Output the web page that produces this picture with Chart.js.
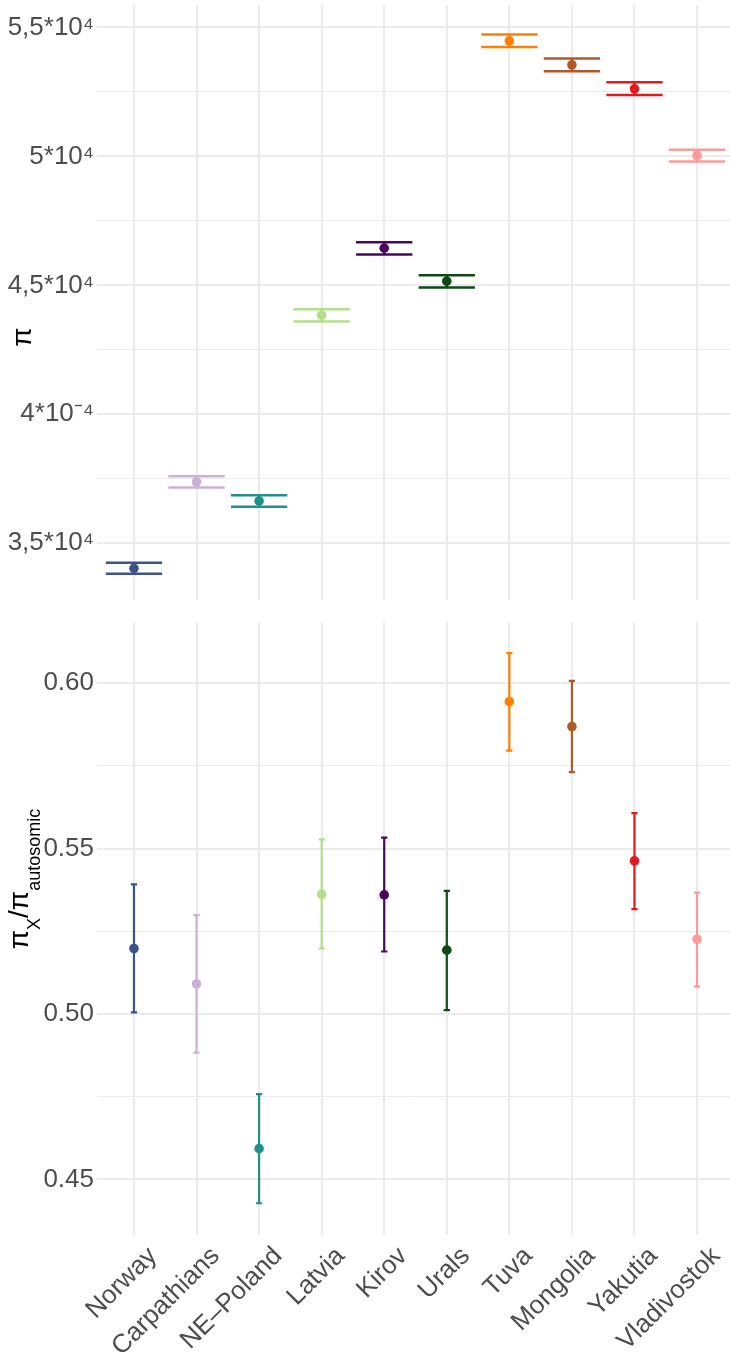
<!DOCTYPE html>
<html>
<head>
<meta charset="utf-8">
<script src="https://cdn.jsdelivr.net/npm/chart.js@4.4.0/dist/chart.umd.min.js"></script>
<style>
  html, body { margin: 0; padding: 0; background: #fff; }
  #wrap { position: relative; width: 730px; height: 1357px; }
  .panel { position: absolute; left: 0; width: 730px; }
  #top { top: 0; height: 605px; }
  #bottom { top: 605px; height: 752px; }
</style>
</head>
<body>
<div id="wrap">
  <div class="panel" id="top"><canvas id="piChartjs"></canvas></div>
  <div class="panel" id="bottom"><canvas id="ratioChartjs"></canvas></div>
</div>
<script>
const regions = ['Norway', 'Carpathians', 'NE\u2013Poland', 'Latvia', 'Kirov', 'Urals', 'Tuva', 'Mongolia', 'Yakutia', 'Vladivostok'];
const regionColors = ['#3B528B', '#CAB2D6', '#21908C', '#B2DF8A', '#49065E', '#0C4A12', '#FF7F00', '#B15928', '#E31A1C', '#FB9A99'];

// pi, in units of 10^-4
const piMean = [3.403, 3.738, 3.664, 4.384, 4.644, 4.516, 5.448, 5.355, 5.262, 5.003];
const piLow  = [3.382, 3.716, 3.642, 4.360, 4.620, 4.492, 5.424, 5.330, 5.238, 4.980];
const piHigh = [3.424, 3.760, 3.686, 4.407, 4.667, 4.539, 5.473, 5.380, 5.287, 5.026];
const piTickLabels = { '3.5': '3,5*10\u2074', '4': '4*10\u207B\u2074', '4.5': '4,5*10\u2074', '5': '5*10\u2074', '5.5': '5,5*10\u2074' };

// pi X / pi autosomic
const ratioMean = [0.5198, 0.5091, 0.4593, 0.5362, 0.5360, 0.5193, 0.5944, 0.5869, 0.5463, 0.5226];
const ratioLow  = [0.5005, 0.4883, 0.4428, 0.5198, 0.5189, 0.5012, 0.5796, 0.5731, 0.5317, 0.5083];
const ratioHigh = [0.5392, 0.5299, 0.4758, 0.5528, 0.5533, 0.5372, 0.6091, 0.6007, 0.5607, 0.5367];

const FONT = '"Liberation Sans", Arial, Helvetica, sans-serif';
const GRID = '#EBEBEB';
const TICK_COLOR = '#4D4D4D';

function makeErrorBars(low, high, capWidth, lineWidth) {
    return {
        id: 'errorBars',
        beforeDatasetsDraw(chart) {
            const ctx = chart.ctx;
            const x = chart.scales.x, y = chart.scales.y;
            const half = (x.getPixelForValue(capWidth / 2) - x.getPixelForValue(0));
            ctx.save();
            ctx.lineWidth = lineWidth;
            low.forEach((lo, i) => {
                const px = x.getPixelForValue(i);
                const yLo = y.getPixelForValue(lo);
                const yHi = y.getPixelForValue(high[i]);
                ctx.strokeStyle = regionColors[i];
                ctx.beginPath();
                ctx.moveTo(px, yLo); ctx.lineTo(px, yHi);
                ctx.moveTo(px - half, yLo); ctx.lineTo(px + half, yLo);
                ctx.moveTo(px - half, yHi); ctx.lineTo(px + half, yHi);
                ctx.stroke();
            });
            ctx.restore();
        }
    };
}

// rotated y title, drawn in pieces so subscripts work
function makeTitle(parts, baseX, centerY) {
    return {
        id: 'yTitle',
        afterDraw(chart) {
            const ctx = chart.ctx;
            ctx.save();
            let total = 0;
            parts.forEach(p => {
                ctx.font = p.size + 'px ' + FONT;
                p.w = ctx.measureText(p.text).width;
                total += p.w;
            });
            ctx.translate(baseX, centerY);
            ctx.rotate(-Math.PI / 2);
            ctx.fillStyle = '#000';
            ctx.textBaseline = 'alphabetic';
            ctx.textAlign = 'left';
            let cx = -total / 2;
            parts.forEach(p => {
                ctx.font = p.size + 'px ' + FONT;
                ctx.fillText(p.text, cx, p.dy || 0);
                cx += p.w;
            });
            ctx.restore();
        }
    };
}

function isMajor(v, step) {
    const r = v / step;
    return Math.abs(r - Math.round(r)) < 1e-6;
}

const xMin = -0.591, xMax = 9.527;

function xScale(showLabels) {
    return {
        type: 'linear',
        min: xMin,
        max: xMax,
        border: { display: false },
        grid: { color: GRID, lineWidth: 2, drawTicks: false },
        ticks: {
            display: showLabels,
            stepSize: 1,
            includeBounds: false,
            autoSkip: false,
            minRotation: 45,
            maxRotation: 45,
            padding: 6,
            labelOffset: 19,
            color: TICK_COLOR,
            font: { family: FONT, size: 26 },
            callback: v => regions[v] !== undefined ? regions[v] : ''
        },
        afterFit: s => {
            s.height = showLabels ? 122 : 5;
            s.paddingLeft = 0; s.paddingRight = 0;
        }
    };
}

function yScale(min, max, majorStep, labelFn) {
    return {
        type: 'linear',
        min: min,
        max: max,
        border: { display: false },
        grid: {
            color: GRID,
            drawTicks: false,
            lineWidth: c => (c.tick && isMajor(c.tick.value, majorStep)) ? 2 : 1
        },
        ticks: {
            stepSize: majorStep / 2,
            includeBounds: false,
            autoSkip: false,
            padding: 3,
            color: TICK_COLOR,
            font: { family: FONT, size: 26 },
            callback: v => isMajor(v, majorStep) ? labelFn(v) : ''
        },
        afterFit: s => {
            s.width = 97;
            s.paddingTop = 0; s.paddingBottom = 0;
        }
    };
}

const piChart = new Chart(document.getElementById('piChartjs').getContext('2d'), {
    type: 'scatter',
    data: {
        datasets: [{
            data: piMean.map((v, i) => ({ x: i, y: v })),
            pointRadius: 4.8,
            pointBorderWidth: 0,
            pointBackgroundColor: regionColors
        }]
    },
    options: {
        responsive: true,
        maintainAspectRatio: false,
        animation: false,
        layout: { autoPadding: false, padding: { top: 5, left: 0, right: 0, bottom: 0 } },
        plugins: { legend: { display: false }, tooltip: { enabled: false } },
        scales: {
            x: xScale(false),
            y: yScale(3.28, 5.587, 0.5, v => piTickLabels[String(Math.round(v * 10) / 10)] || '')
        }
    },
    plugins: [makeErrorBars(piLow, piHigh, 0.9, 2.5), makeTitle([{ text: '\u03C0', size: 28 }], 31, 337)]
});

const ratioChart = new Chart(document.getElementById('ratioChartjs').getContext('2d'), {
    type: 'scatter',
    data: {
        datasets: [{
            data: ratioMean.map((v, i) => ({ x: i, y: v })),
            pointRadius: 4.8,
            pointBorderWidth: 0,
            pointBackgroundColor: regionColors
        }]
    },
    options: {
        responsive: true,
        maintainAspectRatio: false,
        animation: false,
        layout: { autoPadding: false, padding: { top: 17, left: 0, right: 0, bottom: 0 } },
        plugins: { legend: { display: false }, tooltip: { enabled: false } },
        scales: {
            x: xScale(true),
            y: yScale(0.4332, 0.6185, 0.05, v => v.toFixed(2))
        }
    },
    plugins: [
        makeErrorBars(ratioLow, ratioHigh, 0.1, 2.2),
        makeTitle([
            { text: '\u03C0', size: 28 },
            { text: 'X', size: 18, dy: 12 },
            { text: '/', size: 28 },
            { text: '\u03C0', size: 28 },
            { text: 'autosomic', size: 18, dy: 12 }
        ], 28, 274)
    ]
});
</script>
</body>
</html>
